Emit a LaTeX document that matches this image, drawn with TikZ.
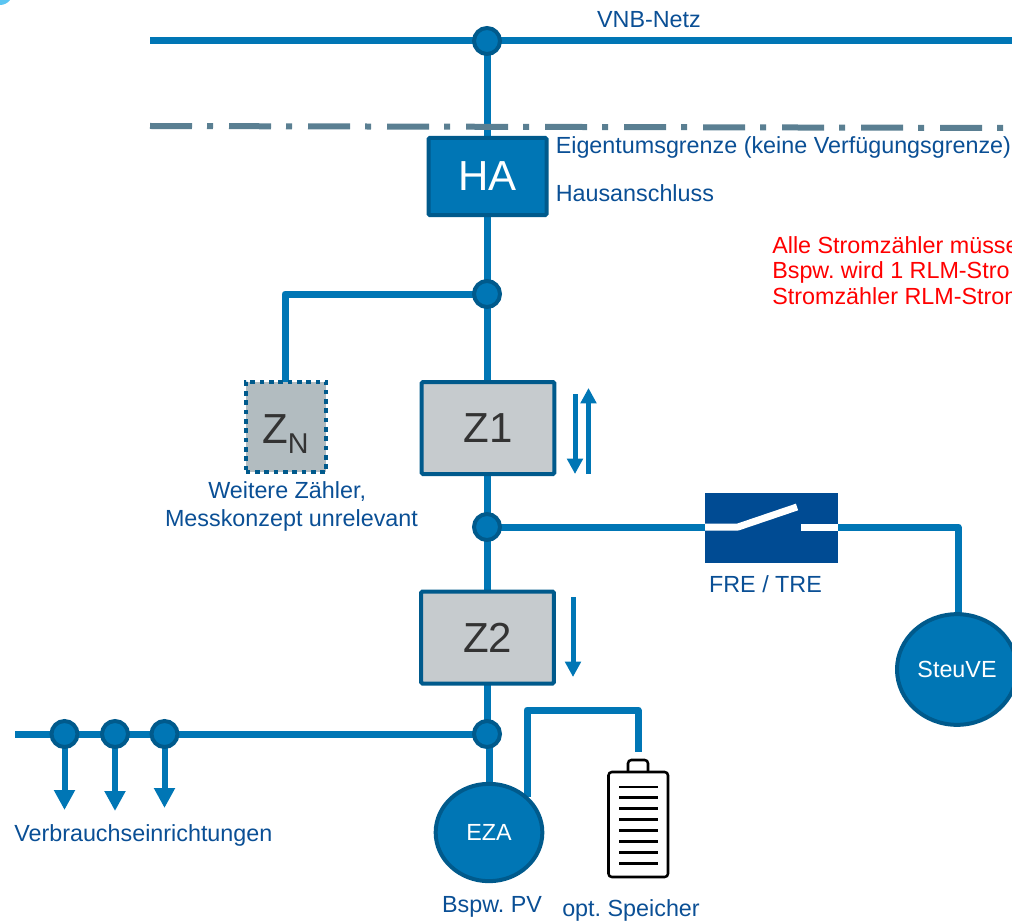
\documentclass[tikz,border=0pt]{standalone}
\usepackage{fontspec}
\setmainfont{Liberation Sans}
\frenchspacing
\usetikzlibrary{arrows.meta,backgrounds,shapes.geometric}
\definecolor{wire}{HTML}{0076B5}
\definecolor{rim}{HTML}{005A8C}
\definecolor{lbl}{HTML}{0A4F95}
\definecolor{gry}{HTML}{C6CBCE}
\definecolor{gryd}{HTML}{B2BCC0}
\definecolor{grenz}{HTML}{5A7F92}
\definecolor{swb}{HTML}{004B93}
\definecolor{cyanc}{HTML}{5BC5F2}
\definecolor{ink}{HTML}{333333}
\newcommand{\lblfont}{\fontsize{17.5pt}{20pt}\selectfont}
\newcommand{\bigfont}{\fontsize{31.5pt}{36pt}\selectfont}
\tikzset{
  wireline/.style={draw=wire,line width=5.25pt},
  junction/.style={circle,draw=rim,fill=wire,line width=3pt,minimum size=19.5pt,inner sep=0pt},
  blockbox/.style={rectangle,draw=rim,line width=3pt,rounded corners=1pt,inner sep=0pt},
  meterbox/.style={blockbox,fill=gry,minimum width=99.5pt,minimum height=69pt,text=ink,font=\bigfont},
  roundbox/.style={ellipse,draw=rim,fill=wire,line width=3pt,inner sep=0pt,text=white,font=\lblfont},
  txt/.style={text=lbl,font=\lblfont,inner sep=0pt,anchor=base west},
  redtxt/.style={text=red,font=\lblfont,inner sep=0pt,anchor=base west},
  flowarrow/.style={draw=wire,line width=3.75pt,-{Triangle[width=11.5pt,length=11.5pt]}},
  loadarrow/.style={draw=wire,line width=4.5pt,-{Triangle[width=15pt,length=15pt]}},
  battline/.style={draw=black,line width=1.7pt}
}
\begin{document}
\begin{tikzpicture}[x=0.75pt,y=-0.75pt]
\clip (0,0) rectangle (1012,923);
% corner remnant
\fill[cyanc] (0,0) -- (10,0) .. controls (8,3) and (4,5) .. (0,5) -- cycle;

% junctions
\node[junction] (jtop) at (487,41) {};
\node[junction] (jha) at (487,294) {};
\node[junction] (jmid) at (487,527) {};
\node[junction] (jlow) at (487,734) {};
\node[junction] (jl1) at (64.5,734) {};
\node[junction] (jl2) at (115,734) {};
\node[junction] (jl3) at (164.5,734) {};

% blocks
\node[blockbox,fill=wire,minimum width=88.5pt,minimum height=58pt,text=white,font=\bigfont] (ha) at (487.5,176.5) {HA};
\node[meterbox] (z1) at (488,428) {Z1};
\node[meterbox] (z2) at (487.5,637.5) {Z2};
\node[rectangle,draw=rim,fill=gryd,line width=3pt,dash pattern=on 3.4pt off 3.6pt,minimum width=60.5pt,minimum height=68pt,inner sep=0pt] (zn) at (286,427) {};
\node[inner sep=0pt,text=ink,anchor=base west] (zntext) at (262,443) {\bigfont Z\raisebox{-7.5pt}{\fontsize{21.5pt}{24pt}\selectfont N}};
\node[rectangle,fill=swb,minimum width=99.75pt,minimum height=52.5pt,inner sep=0pt] (sw) at (771.5,528) {};
\node[roundbox,minimum width=90pt,minimum height=83pt] (steu) at (957,669.5) {SteuVE};
\node[roundbox,minimum width=80pt,minimum height=73pt] (eza) at (489,832.5) {EZA};

% named free ends
\coordinate (vnbl) at (150,41);
\coordinate (vnbr) at (1012,41);
\coordinate (busl) at (15,734);
\coordinate (zncorner) at (285,294);
\coordinate (steucorner) at (958,527);
\coordinate (ezab) at (527,797);
\coordinate (spa) at (527,710);
\coordinate (spb) at (638,710);
\coordinate (spc) at (638,752);
\coordinate (gl) at (150,126);
\coordinate (gr) at (1012,128);

\begin{scope}[on background layer]
  \draw[wireline] (vnbl) -- (vnbr);
  \draw[wireline] (jtop.center) -- (jtop.center |- ha.center);
  \draw[wireline] (ha.center -| jha.center) -- (jha.center);
  \draw[wireline] (jha.center) -- (jha.center |- z1.center);
  \draw[wireline] (z1.center -| jmid.center) -- (jmid.center);
  \draw[wireline] (jmid.center) -- (jmid.center |- z2.center);
  \draw[wireline] (z2.center -| jlow.center) -- (jlow.center);
  \draw[wireline] (jlow.center -| eza.center) -- (eza.center);
  \draw[wireline,line join=round] (jha.center) -- (zncorner) -- (zncorner |- zn.center);
  \draw[wireline] (busl) -- (jlow.center);
  \draw[wireline] (jmid.center) -- (sw.west |- jmid.center);
  \draw[wireline,line join=round] (sw.east |- jmid.center) -- (steucorner) -- (steu.center -| steucorner);
  \draw[wireline,line join=round] (ezab) -- (spa) -- (spb) -- (spc);
\end{scope}

% boundary line
\draw[draw=grenz,line width=4.5pt,dash pattern=on 31.5pt off 11.25pt on 4.5pt off 12pt] (gl) -- (gr);

% switch contacts
\draw[white,line width=5.25pt,line join=round] (705,527) -- (738,527) -- (797,507);
\draw[white,line width=5.25pt] (801,527) -- (838,527);

% flow arrows
\coordinate (a1s) at (575,394); \coordinate (a1e) at (575,474);
\coordinate (a2s) at (588.5,474); \coordinate (a2e) at (588.5,388);
\coordinate (a3s) at (573,597); \coordinate (a3e) at (573,677);
\draw[flowarrow] (a1s) -- (a1e);
\draw[flowarrow] (a2s) -- (a2e);
\draw[flowarrow] (a3s) -- (a3e);

% load arrows
\coordinate (l1) at (64.5,810); \coordinate (l2) at (115,811); \coordinate (l3) at (164.5,808);
\begin{scope}[on background layer]
  \draw[loadarrow] (jl1.center) -- (l1);
  \draw[loadarrow] (jl2.center) -- (l2);
  \draw[loadarrow] (jl3.center) -- (l3);
\end{scope}

% battery
\draw[black,line width=1.9pt,rounded corners=2.5pt] (608.5,772) rectangle (668,877);
\draw[black,line width=1.9pt,rounded corners=2.5pt] (628,772) -- (628,760) -- (648,760) -- (648,772);
\foreach \yy in {787,797.5,808.5,819.5,830.5,841.5,852.5,863.5}
  \draw[battline] (619,\yy) -- (658,\yy);

% labels
\node[txt,anchor=center] (tvnb) at (649,20) {VNB-Netz};
\node[txt] (teig) at (555.5,153.5) {Eigentumsgrenze (keine Verfügungsgrenze)};
\node[txt] (thau) at (555.5,202) {Hausanschluss};
\node[redtxt] (r1) at (772,254) {Alle Stromzähler müsse};
\node[redtxt] (r2) at (772,279) {Bspw. wird 1 RLM-Stro};
\node[redtxt] (r3) at (772,304) {Stromzähler RLM-Strom};
\node[txt,anchor=center,align=center] (tzn) at (291.5,506.5) {Weitere Zähler,\hspace{6.5pt}\mbox{}\\[0.5pt]Messkonzept unrelevant};
\node[txt,anchor=center] (tfre) at (765.5,584) {FRE / TRE};
\node[txt] (tver) at (14,841) {Verbrauchseinrichtungen};
\node[txt,anchor=center] (tpv) at (492,907) {Bspw. PV};
\node[txt,anchor=center] (tsp) at (631,910.5) {opt. Speicher};
\end{tikzpicture}
\end{document}
